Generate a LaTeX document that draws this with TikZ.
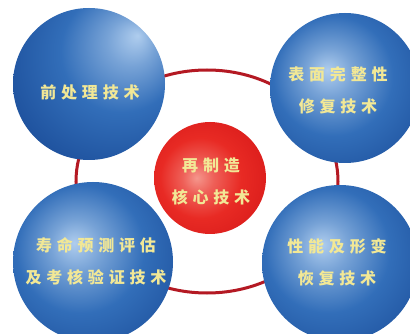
\documentclass[tikz,border=0pt]{standalone}
\usepackage{fontspec}
\newfontfamily\cjk[LetterSpace=30]{Noto Sans CJK SC}
\usetikzlibrary{shapes.geometric}
\definecolor{ringred}{RGB}{180,25,35}
\definecolor{txtyel}{RGB}{242,232,150}
\definecolor{bhl}{RGB}{175,205,238}
\definecolor{bmid}{RGB}{50,110,185}
\definecolor{bmain}{RGB}{32,84,160}
\definecolor{bedge}{RGB}{18,50,105}
\definecolor{rhl}{RGB}{245,150,140}
\definecolor{rmid}{RGB}{232,42,36}
\definecolor{rmain}{RGB}{215,25,25}
\definecolor{redge}{RGB}{160,15,15}
\pgfdeclareradialshading{sphTL}{\pgfpoint{16bp}{16bp}}{color(0bp)=(bhl); color(8bp)=(bhl!55!bmid); color(20bp)=(bmid); color(34bp)=(bmain); color(48bp)=(bedge); color(60bp)=(bedge)}
\pgfdeclareradialshading{sphUL}{\pgfpoint{-6bp}{6bp}}{color(0bp)=(bhl); color(8bp)=(bhl!55!bmid); color(20bp)=(bmid); color(34bp)=(bmain); color(48bp)=(bedge); color(60bp)=(bedge)}
\pgfdeclareradialshading{sphRed}{\pgfpoint{-6bp}{0bp}}{color(0bp)=(rhl); color(7bp)=(rhl!50!rmid); color(18bp)=(rmid); color(34bp)=(rmain); color(48bp)=(redge); color(60bp)=(redge)}
\tikzset{
  sphere/.style={circle, inner sep=0pt, minimum size=#1},
  lbl/.style={text=txtyel, font=\cjk\bfseries\fontsize{16}{32}\selectfont, align=center},
  ringline/.style={draw=ringred, line width=3pt}
}
\begin{document}
\begin{tikzpicture}[x=1pt,y=-1pt]
\useasboundingbox (0,0) rectangle (410,334);
\fill[white] (0,0) rectangle (410,334);
\node[ellipse, ringline, minimum width=262pt, minimum height=223pt, inner sep=0pt] (ring) at (207,181.5) {};
\node[sphere=152pt, shading=sphTL] (tl) at (89,84) {};
\node[sphere=150pt, shading=sphUL] (tr) at (345,88) {};
\node[sphere=160pt, shading=sphUL] (bl) at (93,262) {};
\node[sphere=156pt, shading=sphUL] (br) at (340,263) {};
\node[sphere=112pt, shading=sphRed] (c) at (210,178) {};
\node[lbl] (ttl) at (90,92) {前处理技术};
\node[lbl] (ttr) at (338,90) {表面完整性\\修复技术};
\node[lbl] (tc) at (211,181) {再制造\\核心技术};
\node[lbl] (tbl) at (96,261) {寿命预测评估\\及考核验证技术};
\node[lbl] (tbr) at (337,262) {性能及形变\\恢复技术};
\end{tikzpicture}
\end{document}
